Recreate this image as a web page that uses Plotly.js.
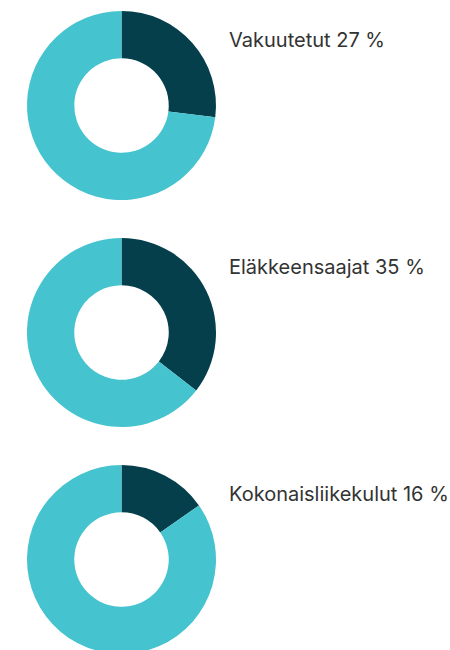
<!DOCTYPE html>
<html>
<head>
<meta charset="utf-8">
<script src="https://cdn.plot.ly/plotly-3.0.1.min.js"></script>
<style>
html, body { margin: 0; padding: 0; overflow: hidden; background: #fff; }
#chart { width: 450px; height: 660px; }
</style>
</head>
<body>
<div id="chart"></div>
<script>
// Data
var labels = ["Vakuutetut", "Eläkkeensaajat", "Kokonaisliikekulut"];
var labelPercents = ["27", "35", "16"];          // as printed in the labels
var shares = [27, 35.5, 15.3];                   // slice sizes as drawn
var sliceNames = ["Osuus", "Muut"];
var colors = ["#043f4b", "#45c3ce"];

// Layout helpers (pixels)
var W = 450, H = 660;
var centersY = [105.5, 332.5, 559.5];
var centerX = 121.5, R = 94.5;

var traces = [];
var annotations = [];
for (var i = 0; i < labels.length; i++) {
  var cy = centersY[i];
  traces.push({
    type: "pie",
    values: [shares[i], 100 - shares[i]],
    labels: sliceNames,
    hole: 0.5,
    sort: false,
    direction: "clockwise",
    rotation: 0,
    textinfo: "none",
    hoverinfo: "none",
    showlegend: false,
    marker: { colors: colors, line: { width: 0 } },
    domain: {
      x: [(centerX - R) / W, (centerX + R) / W],
      y: [(H - (cy + R)) / H, (H - (cy - R)) / H]
    }
  });
  annotations.push({
    xref: "paper", yref: "paper",
    x: 227 / W, y: (H - (cy - 65.5)) / H,
    xanchor: "left", yanchor: "middle",
    showarrow: false,
    text: labels[i] + " " + labelPercents[i] + " %",
    font: { family: "Inter, 'Open Sans', sans-serif", size: 20, color: "#333333" }
  });
}

Plotly.newPlot("chart", traces, {
  width: W, height: H,
  margin: { l: 0, r: 0, t: 0, b: 0 },
  paper_bgcolor: "#ffffff",
  annotations: annotations
}, { staticPlot: true, displayModeBar: false });
</script>
</body>
</html>
